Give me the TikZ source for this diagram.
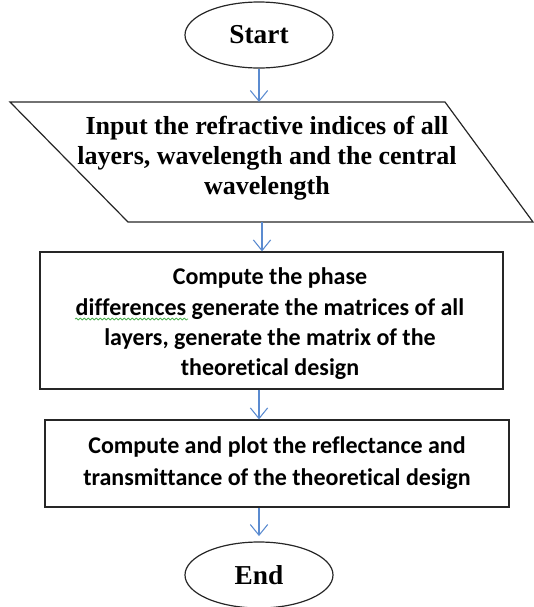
\documentclass[tikz,border=0pt]{standalone}
\usepackage{fontspec}
\setmainfont{Liberation Serif}
\newfontfamily\calibri[Ligatures=NoCommon]{Carlito}
\usepackage{xcolor}
\usetikzlibrary{arrows.meta,shapes.geometric,decorations.pathmorphing}
\definecolor{flowblue}{HTML}{5B8BD0}
\definecolor{squiggle}{HTML}{4CB050}

\begin{document}
\begin{tikzpicture}[x=0.75pt,y=-0.75pt,
    term/.style={ellipse, draw=black!85, line width=0.9pt, inner sep=0pt,
        minimum width=111pt, minimum height=49.5pt,
        font=\fontsize{20.5}{24}\selectfont\bfseries},
    procbox/.style={rectangle, draw=black!85, line width=0.9pt, inner sep=0pt},
    proctext/.style={align=center, inner sep=0pt, font=\calibri\fontsize{18}{22.7}\selectfont\bfseries},
    flow/.style={draw=flowblue, line width=0.8pt, -{Straight Barb[length=8pt,width=13pt]}}]
        \useasboundingbox (0,0) rectangle (534,607);
        \clip (0,0) rectangle (534,607);
        %%Terminals
        \node[term] (start) at (259,35) {Start};
        \node[term] (stop) at (259,575) {End};
        %%Input
        \draw[draw=black!85, line width=0.9pt] (10,102) -- (445,102) -- (533,222) -- (128,222) -- cycle;
        \node[align=center, font=\fontsize{19.5}{22.5}\selectfont\bfseries] (input) at (267,158)
            {Input the refractive indices of all\\layers, wavelength and the central\\wavelength};
        \coordinate (in top) at (258,102);
        \coordinate (in bot) at (262,222);
        %%Processes
        \node[procbox, minimum width=347.25pt, minimum height=102.75pt] (phase) at (271.5,320.5) {};
        \node[proctext] (phase text) at (270,324)
            {Compute the phase\\differences generate the matrices of all\\layers, generate the matrix of the\\theoretical design};
        \node[procbox, minimum width=348pt, minimum height=65.25pt] (plot) at (277,463.5) {};
        \node[proctext, font=\calibri\fontsize{18}{24.5}\selectfont\bfseries] (plot text) at (277,463)
            {Compute and plot the reflectance and\\transmittance of the theoretical design};
        \draw[squiggle, line width=0.6pt, decorate, decoration={snake, amplitude=0.7pt, segment length=3pt}]
            (75,319) -- (188,319);
        %%Arrows
        \draw[flow] (start) -- (start |- in top);
        \draw[flow] (in bot) -- (in bot |- phase.north);
        \draw[flow] (phase.south -| stop) -- (plot.north -| stop);
        \draw[flow] (plot.south -| stop) -- ([yshift=4]stop.north);
\end{tikzpicture}
\end{document}
